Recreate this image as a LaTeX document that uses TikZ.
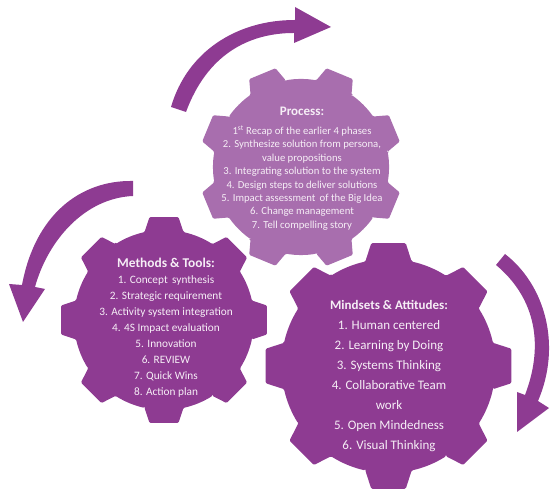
\documentclass[tikz,border=0pt]{standalone}
\usepackage{fontspec}
\setmainfont{Carlito}
\definecolor{gearDark}{HTML}{8E3B92}
\definecolor{gearLight}{HTML}{A86EAE}
\definecolor{textTint}{HTML}{F6EEF6}
\newcommand{\gearshape}[5]{% cx, cy(px from top), colour, valley radius, rotation
  \begin{scope}[shift={(#1,498-#2)},rotate=#5]
    \fill[#3,rounded corners=1.2bp]
      (-12.5:#4) \foreach \a in {0,45,...,315}{
        -- (\a-12.5:#4) -- (\a-8:\gearR) -- (\a+8:\gearR) -- (\a+12.5:#4)
        arc[start angle=\a+12.5,end angle=\a+32.5,radius=#4]
      } -- cycle;
  \end{scope}}
\newcommand{\gtitle}[2]{{\fontsize{#1bp}{#1bp}\selectfont\bfseries #2}}
\tikzset{
  arrowfill/.style={fill=gearDark},
  geartext/.style={text=textTint,align=center},
  smalltext/.style={geartext,font=\fontsize{10.7bp}{13.4bp}\selectfont},
  midtext/.style={geartext,font=\fontsize{11.3bp}{16bp}\selectfont},
  bigtext/.style={geartext,font=\fontsize{13bp}{20bp}\selectfont},
}
\begin{document}
\begin{tikzpicture}[x=1bp,y=1bp]
\useasboundingbox (0,0) rectangle (553,498);
% arrows
\fill[arrowfill] (171,498-107) .. controls (187,498-52) and (236,498-20) .. (295,498-20)
  -- (295,498-7) -- (331,498-27) -- (294,498-43) -- (294,498-33)
  .. controls (248,498-33) and (207,498-55) .. (186,498-112) -- cycle;
\fill[arrowfill] (133,498-181) .. controls (80,498-180) and (35,498-215) .. (22,498-285)
  -- (9,498-284) -- (23,498-322) -- (45,498-289) -- (35,498-287)
  .. controls (48,498-240) and (85,498-198) .. (133,498-196) -- cycle;
\fill[arrowfill] (505,498-254) .. controls (545,498-285) and (562,498-345) .. (538,498-401)
  -- (549,498-408) -- (517,498-432) -- (517,498-392) -- (525,498-395)
  .. controls (546,498-340) and (532,498-295) .. (496,498-265) -- cycle;
% gears
\def\gearR{102}\gearshape{301}{167}{gearLight}{88}{22.5}
\def\gearR{104}\gearshape{164}{320}{gearDark}{90}{0}
\def\gearR{124}\gearshape{388.5}{366}{gearDark}{107}{0}
% text
\node[smalltext] (process) at (302,498-168.5) {\gtitle{13}{Process:}\\[6bp]
1\textsuperscript{st} Recap of the earlier 4 phases\\
2. Synthesize solution from persona,\\
value propositions\\
3. Integrating solution to the system\\
4. Design steps to deliver solutions\\
5. Impact assessment\, of the Big Idea\\
6. Change management\\
7. Tell compelling story};
\node[midtext] (methods) at (166,498-328) {\gtitle{13.4}{Methods \& Tools:}\\
1. Concept\, synthesis\\
2. Strategic requirement\\
3. Activity system integration\\
4. 4S Impact evaluation\\
5. Innovation\\
6. REVIEW\\
7. Quick Wins\\
8. Action plan};
\node[bigtext] (mindsets) at (389,498-376) {\textbf{Mindsets \& Attitudes:}\\
1. Human centered\\
2. Learning by Doing\\
3. Systems Thinking\\
4. Collaborative Team\\
work\\
5. Open Mindedness\\
6. Visual Thinking};
\end{tikzpicture}
\end{document}
